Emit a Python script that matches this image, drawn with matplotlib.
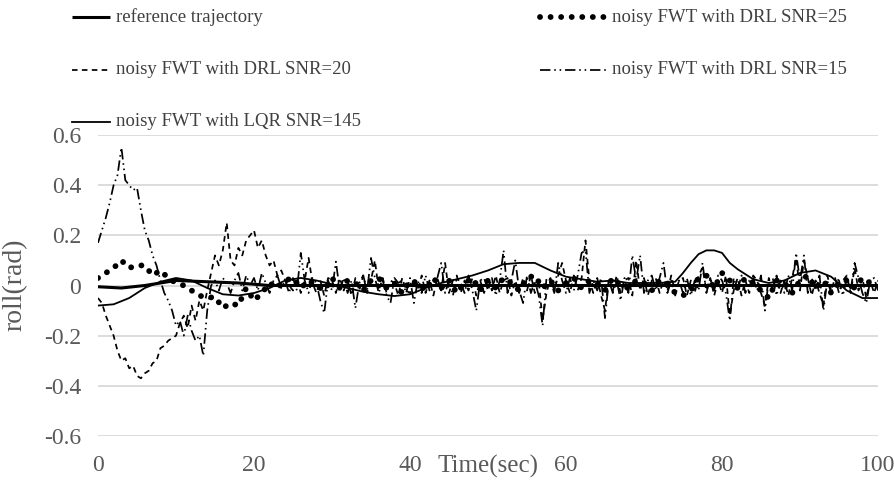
import numpy as np
import matplotlib
matplotlib.use("Agg")
import matplotlib.pyplot as plt
from matplotlib.lines import Line2D

plt.rcParams['font.family'] = ['Liberation Serif', 'DejaVu Serif']

# ---------------- data ----------------
ref_t = [0, 3, 6, 10, 14, 18, 22, 100]
ref_v = [-0.005, -0.01, 0.0, 0.02, 0.015, 0.01, 0.0, 0.0]

lqr_t = [0, 2, 4, 6, 8, 10, 12, 14, 16, 18, 20, 22, 24, 26, 28, 30, 32, 34, 36, 38,
         40, 42, 44, 46, 48, 50, 52, 54, 56, 58, 60, 62, 64, 66, 68, 70, 72, 74, 75,
         76, 77, 78, 79, 80, 81, 82, 83, 84, 86, 88, 90, 92, 94, 96, 98, 100]
lqr_v = [-0.08, -0.075, -0.05, -0.01, 0.015, 0.03, 0.02, -0.01, -0.035, -0.04,
         -0.03, -0.01, 0.02, 0.03, 0.02, 0.005, -0.01, -0.025, -0.035, -0.042,
         -0.035, -0.01, 0.01, 0.025, 0.04, 0.06, 0.085, 0.09, 0.09, 0.06,
         0.035, 0.025, 0.015, 0.02, 0.01, 0.01, 0.01, 0.015, 0.05,
         0.09, 0.125, 0.14, 0.14, 0.13, 0.09, 0.065, 0.045, 0.025, 0.01, 0.02,
         0.05, 0.06, 0.035, -0.02, -0.05, -0.05]

t_half = [i * 0.5 for i in range(201)]
t_one = list(range(101))

snr25 = [0.03, 0.05, 0.07, 0.10, 0.07, 0.08, 0.08, 0.04, 0.06, 0.03,
         0.01, 0.00, -0.02, -0.04, -0.05, -0.045, -0.09, -0.07, -0.08, -0.01,
         -0.06, -0.03, 0.01, -0.01, 0.02, 0.03, -0.01, 0.02, 0.00, -0.02,
         0.03, -0.01, 0.02, 0.01, -0.02, 0.02, 0.03, -0.01, 0.01, -0.03,
         0.02, 0.01, -0.02, 0.03, -0.01, 0.02, -0.03, 0.01, 0.03, -0.02,
         0.02, -0.01, 0.03, 0.01, -0.02, 0.03, 0.04, -0.01, 0.02, -0.02,
         0.01, 0.03, -0.01, 0.02, 0.01, -0.02, 0.03, 0.00, -0.01, 0.02,
         0.01, -0.02, 0.02, 0.01, -0.03, -0.04, -0.02, 0.03, 0.04, -0.01,
         0.05, 0.02, -0.01, 0.03, 0.01, -0.02, -0.05, 0.02, 0.01, -0.03,
         0.02, 0.04, -0.01, 0.02, -0.03, 0.01, 0.02, -0.01, 0.03, 0.01,
         0.00]

snr20 = [-0.05, -0.07, -0.12, -0.16, -0.20, -0.26, -0.30, -0.29, -0.33, -0.32,
         -0.36, -0.37, -0.35, -0.34, -0.31, -0.30, -0.25, -0.24, -0.22, -0.21,
         -0.20, -0.15, -0.12, -0.17, -0.08, -0.14, -0.06, -0.10, -0.02, 0.05,
         0.12, 0.08, 0.14, 0.25, 0.10, 0.08, 0.15, 0.12, 0.18, 0.20,
         0.22, 0.15, 0.18, 0.12, 0.08, 0.10, 0.04, 0.06, 0.02, 0.00,
         -0.02, 0.03, -0.03, 0.02, 0.11, 0.01, -0.03, 0.02, -0.04, 0.03,
         0.02, -0.03, 0.03, -0.02, 0.02, -0.04, 0.03, -0.02, 0.04, -0.03,
         0.02, 0.10, -0.02, 0.03, -0.03, 0.02, 0.01, -0.04, 0.03, -0.02,
         -0.03, 0.02, -0.02, 0.04, -0.03, 0.02, -0.04, 0.03, -0.02, 0.09,
         -0.03, 0.02, 0.04, -0.03, 0.02, -0.02, 0.03, -0.04, 0.02, -0.03,
         0.03, -0.02, 0.04, -0.03, 0.02, 0.03, -0.04, 0.02, -0.03, 0.03,
         -0.02, 0.04, -0.03, 0.02, -0.14, -0.03, 0.03, -0.02, 0.04, 0.09,
         0.02, -0.03, 0.04, -0.02, 0.03, 0.18, 0.02, -0.03, 0.03, -0.04,
         -0.10, 0.03, -0.02, 0.04, -0.03, 0.02, 0.03, -0.04, 0.10, -0.02,
         0.03, -0.04, 0.02, 0.03, -0.03, 0.02, -0.02, 0.04, -0.03, 0.02,
         0.03, -0.04, 0.02, -0.03, 0.04, 0.07, -0.02, 0.03, -0.04, 0.02,
         -0.03, 0.04, -0.12, -0.02, 0.03, -0.04, 0.02, -0.03, 0.04, 0.02,
         -0.03, -0.08, 0.03, -0.02, 0.04, -0.03, 0.02, -0.04, 0.03, 0.11,
         -0.02, 0.10, 0.03, -0.04, 0.02, -0.03, -0.08, 0.04, -0.02, 0.03,
         -0.03, 0.02, 0.04, -0.03, 0.07, -0.02, 0.03, -0.05, 0.02, -0.03,
         0.02]

snr15 = [0.17, 0.22, 0.27, 0.33, 0.40, 0.44, 0.55, 0.42, 0.40, 0.38,
         0.39, 0.30, 0.22, 0.18, 0.12, 0.08, 0.02, -0.03, -0.06, -0.10,
         -0.16, -0.14, -0.20, -0.12, -0.18, -0.22, -0.20, -0.28, -0.10, 0.00,
         0.02, -0.02, 0.03, 0.01, -0.03, 0.02, 0.05, -0.02, 0.04, 0.00,
         0.03, -0.02, 0.05, 0.01, -0.03, 0.02, 0.04, -0.01, 0.02, -0.03,
         0.03, -0.02, 0.13, 0.02, -0.03, 0.03, 0.01, -0.06, -0.11, 0.02,
         -0.02, 0.095, -0.02, 0.03, -0.03, 0.02, -0.09, 0.01, 0.04, -0.02,
         0.11, 0.03, -0.03, 0.02, -0.04, -0.07, 0.03, 0.01, 0.02, -0.03,
         0.03, -0.07, 0.02, -0.03, 0.04, -0.02, 0.02, 0.03, 0.09, -0.03,
         0.02, -0.04, 0.03, 0.01, -0.03, 0.04, -0.02, -0.10, 0.02, 0.03,
         -0.02, 0.03, -0.04, 0.02, 0.14, -0.03, 0.02, 0.10, -0.02, -0.07,
         0.04, -0.03, 0.02, -0.04, -0.16, 0.03, 0.02, -0.03, 0.09, 0.02,
         -0.03, 0.03, -0.02, 0.04, 0.13, 0.14, -0.03, 0.02, -0.02, 0.03,
         -0.13, 0.02, -0.03, 0.02, -0.06, 0.03, -0.03, 0.12, 0.02, 0.12,
         -0.03, 0.02, 0.04, -0.02, 0.03, 0.09, -0.03, 0.02, -0.04, 0.02,
         -0.03, 0.03, -0.04, 0.02, -0.02, 0.09, -0.03, 0.03, -0.02, 0.04,
         0.02, -0.03, -0.14, 0.03, -0.02, 0.04, -0.03, 0.02, 0.03, -0.02,
         0.04, -0.10, 0.02, 0.03, -0.04, 0.02, -0.03, 0.04, -0.02, 0.13,
         0.02, 0.12, -0.03, 0.03, -0.02, 0.04, -0.10, 0.02, -0.03, 0.03,
         0.02, -0.04, 0.03, -0.02, 0.09, 0.03, -0.03, -0.07, 0.02, 0.03,
         -0.02]

x_ticks = [0, 20, 40, 60, 80, 100]
y_ticks = [-0.6, -0.4, -0.2, 0, 0.2, 0.4, 0.6]
y_labels = ['-0.6', '-0.4', '-0.2', '0', '0.2', '0.4', '0.6']
labels = ['reference trajectory', 'noisy FWT with DRL SNR=25',
          'noisy FWT with DRL SNR=20', 'noisy FWT with DRL SNR=15',
          'noisy FWT with LQR SNR=145']

# ---------------- styles ----------------
W, H = 894, 480
fig = plt.figure(figsize=(W / 100, H / 100), dpi=100)
ax = fig.add_axes([98 / W, 1 - 436 / H, 780 / W, 301 / H])

st_ref = dict(color='black', lw=2.2, ls='-', solid_capstyle='butt')
st_25 = dict(color='black', lw=4.2, ls=(0, (0.01, 1.8)), dash_capstyle='round')
st_20 = dict(color='black', lw=1.25, ls=(0, (3.2, 2.5)))
st_15 = dict(color='black', lw=1.25, ls=(0, (6, 2.2, 0.9, 2.2, 0.9, 2.2)))
st_lqr = dict(color='black', lw=1.3, ls='-')

ax.plot(t_one, snr25, zorder=3, **st_25)
ax.plot(t_half, snr20, zorder=4, **st_20)
ax.plot(t_half, snr15, zorder=5, **st_15)
ax.plot(ref_t, ref_v, zorder=6, **st_ref)
ax.plot(lqr_t, lqr_v, zorder=7, **st_lqr)

ax.set_xlim(0, 100)
ax.set_ylim(-0.6, 0.6)
ax.set_xticks(x_ticks)
ax.set_yticks(y_ticks)
ax.set_yticklabels(y_labels)
for s in ax.spines.values():
    s.set_visible(False)
ax.yaxis.grid(True, color='#d9d9d9', lw=1.3)
ax.set_axisbelow(True)
ax.tick_params(length=0, labelsize=17, colors='#595959', pad=12)
ax.tick_params(axis='x', pad=14)

fig.text(488 / W, 1 - 466 / H, 'Time(sec)', fontsize=18, color='#595959',
         ha='center', va='center')
fig.text(15 / W, 1 - 285 / H, 'roll(rad)', fontsize=20, color='#595959',
         ha='center', va='center', rotation=90)

# ---------------- legend ----------------
styles = [st_ref, st_25, st_20, st_15, st_lqr]
pos = [(72, 110, 17), (540, 606, 17), (72, 110, 70), (540, 606, 70), (72, 110, 122)]
for (x0, x1, y), st, lab in zip(pos, styles, labels):
    fig.add_artist(Line2D([x0 / W, x1 / W], [1 - y / H, 1 - y / H],
                          transform=fig.transFigure, **st))
    fig.text((x1 + 6) / W, 1 - y / H, lab, fontsize=13.5, color='#404040',
             ha='left', va='center')

fig.savefig('out.png', dpi=100)
